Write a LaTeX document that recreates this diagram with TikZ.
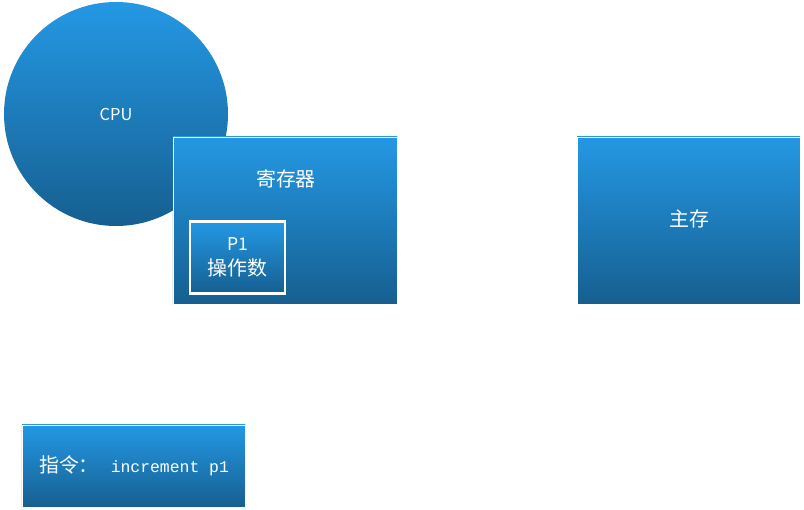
\documentclass[tikz,border=0pt]{standalone}
\usepackage{fontspec}
\setmainfont{Noto Sans CJK SC}
\newfontfamily\latinmono{Liberation Mono}
\usetikzlibrary{positioning}

\definecolor{bluetop}{RGB}{36,152,228}
\definecolor{bluebot}{RGB}{22,95,144}

\tikzset{
  bluegrad/.style={top color=bluetop, bottom color=bluebot},
  box/.style={rectangle, bluegrad, draw=white, line width=0.6pt, inner sep=0pt},
  lbl/.style={text=white, font=\fontsize{17}{21}\selectfont, align=center}
}

\begin{document}
\begin{tikzpicture}[x=0.03cm,y=-0.03cm]
  \useasboundingbox (0,0) rectangle (804,510);

  \node[circle, bluegrad, minimum size=6.72cm, inner sep=0pt] (cpu) at (116,114) {};
  \node[lbl, font=\fontsize{14}{21}\selectfont] (cpulbl) at (116,114) {CPU};

  \node[box, minimum width=6.72cm, minimum height=5.01cm] (reg) at (285,220.5) {};
  \node[lbl] (reglbl) at (286,179) {寄存器};

  \node[box, line width=2pt, minimum width=2.85cm, minimum height=2.15cm] (opnd) at (237.5,257.5) {};
  \node[lbl] (opndlbl) at (237.5,257.5) {{\fontsize{15}{21}\selectfont P1}\\操作数};

  \node[box, minimum width=6.69cm, minimum height=5.01cm] (mem) at (688.5,220.5) {};
  \node[lbl] (memlbl) at (689,219) {主存};

  \node[box, minimum width=6.69cm, minimum height=2.46cm] (instr) at (133.5,466) {};
  \node[lbl] (instrlbl) at (134,466) {指令：\hspace{0.6em}{\latinmono\fontsize{14}{21}\selectfont increment p1}};
\end{tikzpicture}
\end{document}
